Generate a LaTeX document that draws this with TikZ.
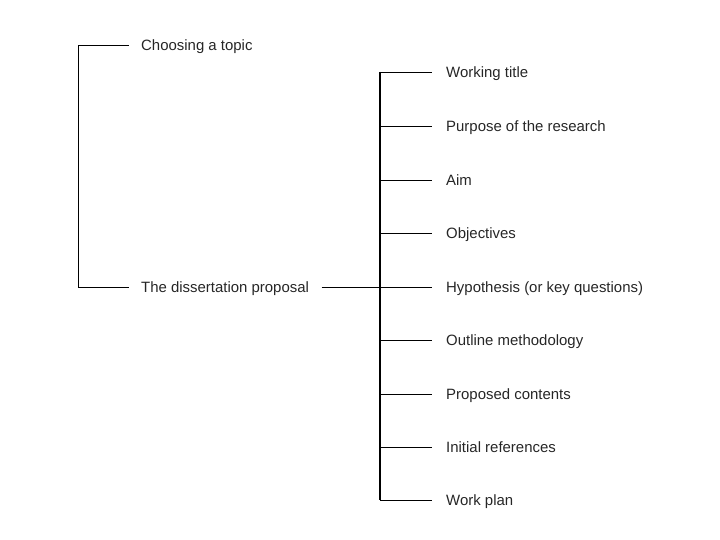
\documentclass[tikz,border=0pt]{standalone}
\usepackage{fontspec}
\setmainfont{Liberation Sans}
\usepackage{tikz}

\begin{document}
\begin{tikzpicture}[x=1bp,y=-1bp]
\tikzstyle{item}=[anchor=west,inner xsep=14bp,inner ysep=0pt,text height=10.7bp,text depth=0pt,font=\fontsize{15}{18}\selectfont,text=black!85]
\tikzstyle{stage}=[item,inner xsep=12.5bp]
\tikzstyle{link}=[line width=0.8pt]
\useasboundingbox (0,0) rectangle (720,540);

\node[stage] (topic) at (128.5,45) {Choosing a topic};
\node[stage] (prop) at (128.5,287) {The dissertation proposal};

\node[item] (title) at (432,72) {Working title};
\node[item] (purpose) at (432,126) {Purpose of the research};
\node[item] (aim) at (432,180) {Aim};
\node[item] (obj) at (432,233) {Objectives};
\node[item] (hyp) at (432,287) {Hypothesis (or key questions)};
\node[item] (method) at (432,340) {Outline methodology};
\node[item] (contents) at (432,394) {Proposed contents};
\node[item] (refs) at (432,447) {Initial references};
\node[item] (plan) at (432,500) {Work plan};

\coordinate (lb) at (78,45);
\coordinate (top) at (380,72);
\coordinate (bot) at (380,500);

\draw[link] (topic) -- (lb) |- (prop);
\draw[link] (prop) -- (hyp);
\draw[line width=1.5pt] (top) -- (bot);

\draw[link] (title -| top) -- (title);
\draw[link] (purpose -| top) -- (purpose);
\draw[link] (aim -| top) -- (aim);
\draw[link] (obj -| top) -- (obj);
\draw[link] (method -| top) -- (method);
\draw[link] (contents -| top) -- (contents);
\draw[link] (refs -| top) -- (refs);
\draw[link] (plan -| top) -- (plan);
\end{tikzpicture}
\end{document}
